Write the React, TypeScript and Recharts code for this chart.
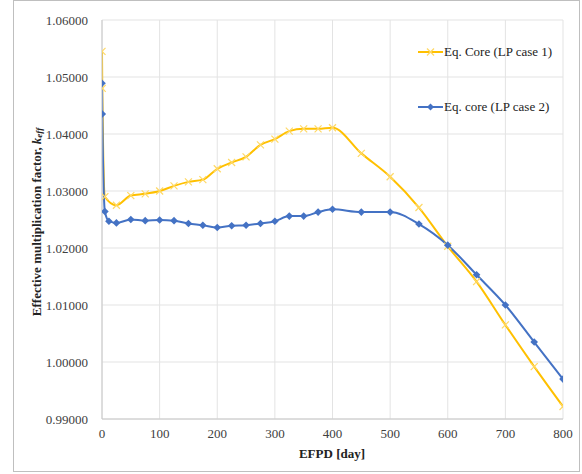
import { LineChart, Line, XAxis, YAxis, CartesianGrid } from 'recharts';

const case1Days = [0, 0.5, 5, 25, 50, 75, 100, 125, 150, 175, 200, 225, 250, 275, 300, 325, 350, 375, 400, 450, 500, 550, 600, 650, 700, 750, 800];
const case1Keff = [
  1.0545, 1.048, 1.029, 1.0275, 1.0292, 1.0295, 1.03, 1.0309, 1.0316, 1.032, 1.0339, 1.035, 1.036, 1.0381,
  1.0391, 1.0405, 1.0409, 1.0409, 1.0411, 1.0366, 1.0325, 1.0271, 1.0203, 1.0141, 1.0065, 0.9992, 0.9922,
];

const case2Days = [0, 0.5, 5, 12, 25, 50, 75, 100, 125, 150, 175, 200, 225, 250, 275, 300, 325, 350, 375, 400, 450, 500, 550, 600, 650, 700, 750, 800];
const case2Keff = [
  1.0489, 1.0435, 1.0264, 1.0247, 1.0244, 1.025, 1.0248, 1.0249, 1.0248, 1.0243, 1.024, 1.0236, 1.0239, 1.024,
  1.0243, 1.0247, 1.0256, 1.0256, 1.0263, 1.0268, 1.0263, 1.0263, 1.0242, 1.0205, 1.0153, 1.01, 1.0035, 0.997,
];

const xTicks = [0, 100, 200, 300, 400, 500, 600, 700, 800];
const yTicks = [0.99, 1.0, 1.01, 1.02, 1.03, 1.04, 1.05, 1.06];

const seriesNames = ['Eq. Core (LP case 1)', 'Eq. core (LP case 2)'];

const YELLOW = '#FFC000';
const BLUE = '#4472C4';
const FONT = '"Liberation Serif", "Times New Roman", serif';

const case1 = case1Days.map((day, i) => ({ day, k: case1Keff[i] }));
const case2 = case2Days.map((day, i) => ({ day, k: case2Keff[i] }));

const CrossDot = (props: any) => {
  const { cx, cy } = props;
  if (cx == null || cy == null) return null;
  const s = 3.5;
  return (
    <g stroke="#FFD966" strokeWidth={1.2}>
      <line x1={cx - s} y1={cy - s} x2={cx + s} y2={cy + s} />
      <line x1={cx - s} y1={cy + s} x2={cx + s} y2={cy - s} />
    </g>
  );
};

const DiamondDot = (props: any) => {
  const { cx, cy } = props;
  if (cx == null || cy == null) return null;
  const s = 3.8;
  return <path d={`M${cx},${cy - s}L${cx + s},${cy}L${cx},${cy + s}L${cx - s},${cy}Z`} fill={BLUE} />;
};

const LegendBox = () => (
  <div style={{ position: 'absolute', left: 418, top: 42, fontFamily: FONT, fontSize: 13, color: '#222' }}>
    {seriesNames.map((name, i) => (
      <div key={name} style={{ display: 'flex', alignItems: 'center', height: 20, marginBottom: i === 0 ? 35 : 0 }}>
        <svg width={25} height={10} style={{ marginRight: 1 }}>
          <line x1={0} y1={5} x2={25} y2={5} stroke={i === 0 ? YELLOW : BLUE} strokeWidth={2} />
          {i === 0 ? (
            <g stroke="#FFD966" strokeWidth={1.2}>
              <line x1={9} y1={1.5} x2={16} y2={8.5} />
              <line x1={9} y1={8.5} x2={16} y2={1.5} />
            </g>
          ) : (
            <path d="M12.5,1.5L16,5L12.5,8.5L9,5Z" fill={BLUE} />
          )}
        </svg>
        <span>{name}</span>
      </div>
    ))}
  </div>
);

const YTitle = () => (
  <text
    x={36}
    y={222}
    transform="rotate(-90, 36, 222)"
    textAnchor="middle"
    dominantBaseline="central"
    fontFamily={FONT}
    fontSize={13}
    fontWeight="bold"
    fill="#222"
  >
    Effective multiplication factor,{' '}
    <tspan fontStyle="italic">k</tspan>
    <tspan fontStyle="italic" fontSize={9} dy={3}>
      eff
    </tspan>
  </text>
);

const XTitle = () => (
  <text x={332} y={453} textAnchor="middle" dominantBaseline="central" fontFamily={FONT} fontSize={13} fontWeight="bold" fill="#222">
    EFPD [day]
  </text>
);

export default function App() {
  return (
    <div style={{ position: 'absolute', left: 0, top: 0, width: 582, height: 474, background: '#fff' }}>
      <div
        style={{
          position: 'absolute',
          left: 13,
          top: 0,
          width: 565,
          height: 470,
          border: '1px solid #bfbfbf',
          boxSizing: 'content-box',
          pointerEvents: 'none',
        }}
      />
      <LineChart width={582} height={474} margin={{ top: 20, right: 19, bottom: 0, left: 0 }}>
        <CartesianGrid stroke="#e3e3e3" strokeWidth={1} />
        <XAxis
          type="number"
          dataKey="day"
          domain={[0, 800]}
          ticks={xTicks}
          height={55}
          axisLine={{ stroke: '#c8c8c8' }}
          tickLine={false}
          tickMargin={4}
          tick={{ fontFamily: FONT, fontSize: 13, fill: '#404040' }}
          label={{ content: () => <XTitle /> }}
          allowDataOverflow
        />
        <YAxis
          type="number"
          domain={[0.99, 1.06]}
          ticks={yTicks}
          width={102}
          axisLine={{ stroke: '#c8c8c8' }}
          tickLine={false}
          tickMargin={8}
          tickFormatter={(v: number) => v.toFixed(5)}
          tick={{ fontFamily: FONT, fontSize: 13, fill: '#404040' }}
          label={{ content: () => <YTitle /> }}
          allowDataOverflow
        />
        <Line
          data={case1}
          dataKey="k"
          name={seriesNames[0]}
          type="monotone"
          stroke={YELLOW}
          strokeWidth={2}
          dot={<CrossDot />}
          activeDot={false}
          isAnimationActive={false}
        />
        <Line
          data={case2}
          dataKey="k"
          name={seriesNames[1]}
          type="monotone"
          stroke={BLUE}
          strokeWidth={2}
          dot={<DiamondDot />}
          activeDot={false}
          isAnimationActive={false}
        />
      </LineChart>
      <LegendBox />
    </div>
  );
}
